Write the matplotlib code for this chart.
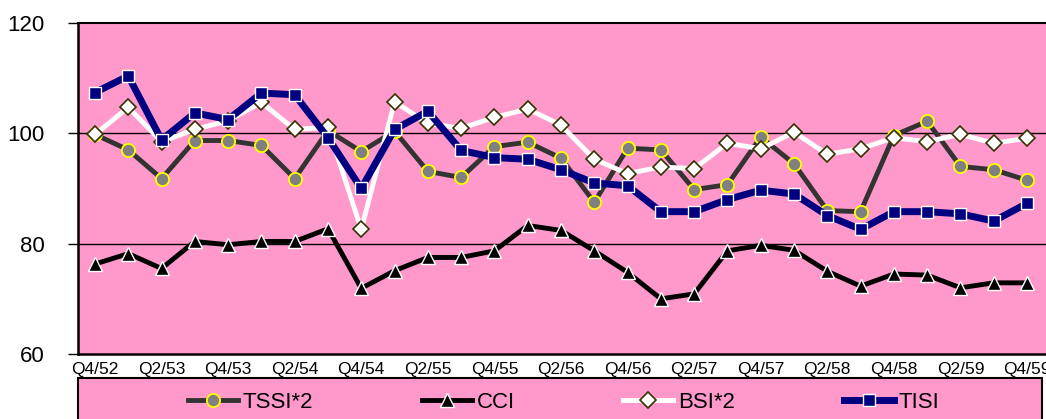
import matplotlib
matplotlib.use("Agg")
import matplotlib.pyplot as plt
from matplotlib.patches import Rectangle

plt.rcParams['font.family'] = ['Liberation Sans', 'DejaVu Sans']

quarters = ["Q4/52", "Q1/53", "Q2/53", "Q3/53", "Q4/53", "Q1/54", "Q2/54", "Q3/54",
            "Q4/54", "Q1/55", "Q2/55", "Q3/55", "Q4/55", "Q1/56", "Q2/56", "Q3/56",
            "Q4/56", "Q1/57", "Q2/57", "Q3/57", "Q4/57", "Q1/58", "Q2/58", "Q3/58",
            "Q4/58", "Q1/59", "Q2/59", "Q3/59", "Q4/59"]

tssi2 = [99.8, 97.0, 91.8, 98.7, 98.7, 97.8, 91.8, 100.5, 96.7, 100.4, 93.1, 92.0,
         97.6, 98.4, 95.5, 87.5, 97.3, 97.0, 89.8, 90.7, 99.3, 94.5, 86.0, 85.8,
         99.6, 102.2, 94.0, 93.4, 91.5]
cci = [76.3, 78.2, 75.5, 80.4, 79.8, 80.4, 80.4, 82.7, 71.9, 75.1, 77.5, 77.5,
       78.7, 83.3, 82.4, 78.7, 74.8, 70.0, 70.9, 78.7, 79.7, 78.8, 75.0, 72.3,
       74.5, 74.3, 72.0, 72.9, 72.9]
bsi2 = [99.8, 104.7, 98.5, 100.7, 102.3, 105.6, 100.7, 101.1, 82.6, 105.7, 101.8,
        100.9, 102.9, 104.4, 101.5, 95.3, 92.7, 93.9, 93.6, 98.2, 97.2, 100.2, 96.2,
        97.2, 99.2, 98.5, 99.8, 98.2, 99.1]
tisi = [107.4, 110.4, 98.8, 103.7, 102.5, 107.3, 107.0, 99.2, 90.0, 100.7, 104.0,
        96.9, 95.6, 95.3, 93.4, 91.0, 90.5, 85.8, 85.8, 88.0, 89.7, 89.0, 85.1,
        82.6, 85.8, 85.8, 85.4, 84.1, 87.3]

PINK = "#FF99CC"
W, H = 1046, 419
fig = plt.figure(figsize=(W / 100, H / 100), dpi=100)
fig.patch.set_facecolor("white")
ax = fig.add_axes([78 / W, 1 - 354 / H, 968 / W, (354 - 23) / H])
ax.set_facecolor(PINK)

x = list(range(len(quarters)))
l1, = ax.plot(x, tssi2, color="#333333", lw=3.5, marker="o", ms=9.5,
              mfc="#808080", mec="#FFFF00", mew=1.3, label="TSSI*2", zorder=3)
l2, = ax.plot(x, cci, color="black", lw=3.5, marker="^", ms=10.5,
              mfc="black", mec="white", mew=1.0, label="CCI", zorder=4)
l3, = ax.plot(x, bsi2, color="white", lw=3.5, marker="D", ms=8.5,
              mfc="white", mec="#333300", mew=1.2, label="BSI*2", zorder=5)
l4, = ax.plot(x, tisi, color="#000080", lw=5, marker="s", ms=8.3,
              mfc="#000080", mec="white", mew=1.0, label="TISI", zorder=6)

ax.set_xlim(-0.51, 28.57)
ax.set_ylim(60, 120)
ax.set_yticks([60, 80, 100, 120])
ax.set_xticks(x[::2])
ax.set_xticklabels(quarters[::2], fontsize=12.5)
ax.tick_params(axis="y", length=7, width=1.0, pad=17, labelsize=16)
ax.tick_params(axis="x", length=0, pad=6)
for yv in (80, 100):
    ax.axhline(yv, color="black", lw=1.0, zorder=1)
for s in ("left", "bottom", "top"):
    ax.spines[s].set_color("black")
ax.spines["left"].set_linewidth(1.8)
ax.spines["bottom"].set_linewidth(1.8)
ax.spines["top"].set_linewidth(1.5)
ax.spines["right"].set_visible(False)

rect = Rectangle((78 / W, -0.05), 964 / W, 0.05 + 1 - 378 / H,
                 transform=fig.transFigure, facecolor=PINK, edgecolor="black",
                 lw=1.5, zorder=0)
fig.patches.append(rect)
fig.legend(handles=[l1, l2, l3, l4], loc="center", bbox_to_anchor=(563.5 / W, 1 - 402 / H),
           ncol=4, frameon=False, fontsize=16, handlelength=2.25, handletextpad=0.2,
           columnspacing=4.9, borderpad=0, markerscale=1.0)

fig.savefig("out.png", dpi=100)
